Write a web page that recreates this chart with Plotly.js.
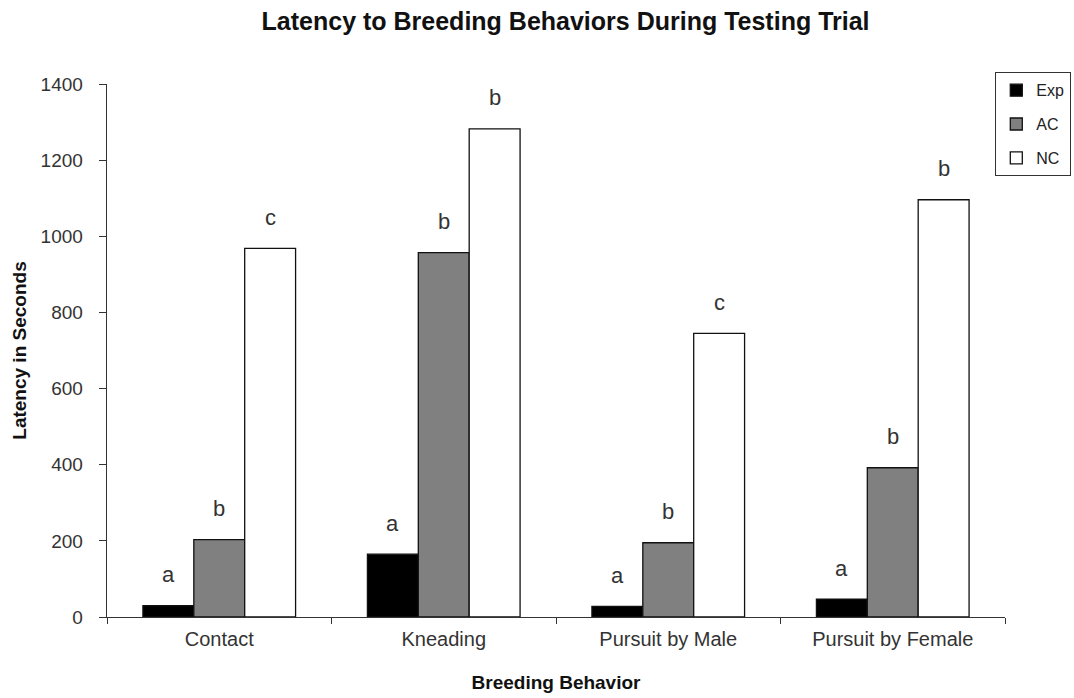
<!DOCTYPE html>
<html>
<head>
<meta charset="utf-8">
<script src="https://cdn.plot.ly/plotly-3.0.1.min.js"></script>
<style>html,body{margin:0;padding:0;background:#fff;}#chart{width:1074px;height:698px;}</style>
</head>
<body>
<div id="chart"></div>
<script>
var categories = ["Contact", "Kneading", "Pursuit by Male", "Pursuit by Female"];
var seriesNames = ["Exp", "AC", "NC"];
var expValues = [30, 165, 28, 47];
var acValues = [203, 957, 195, 392];
var ncValues = [968, 1282, 745, 1096];
var expLetters = ["a", "a", "a", "a"];
var acLetters = ["b", "b", "b", "b"];
var ncLetters = ["c", "b", "c", "b"];
var yTicks = [0, 200, 400, 600, 800, 1000, 1200, 1400];

var fills = ["#000000", "#808080", "#ffffff"];
var allValues = [expValues, acValues, ncValues];
var allLetters = [expLetters, acLetters, ncLetters];
var shifts = [-51, 0, 51];
var FONT = "Liberation Sans, Arial, sans-serif";

var traces = allValues.map(function (vals, i) {
  return {
    type: "bar",
    name: seriesNames[i],
    x: categories,
    y: vals,
    legendgroup: seriesNames[i],
    marker: { color: fills[i], line: { color: "#111", width: 1.3 } },
    hoverinfo: "x+y+name"
  };
});

var annotations = [];
allValues.forEach(function (vals, i) {
  vals.forEach(function (v, j) {
    annotations.push({
      x: categories[j], y: v, xref: "x", yref: "y",
      text: allLetters[i][j], showarrow: false,
      xshift: shifts[i], yshift: 31, yanchor: "middle",
      font: { family: FONT, size: 22, color: "#333" }
    });
  });
});

var layout = {
  width: 1074, height: 698,
  margin: { l: 107, r: 69, t: 84, b: 81, autoexpand: false },
  paper_bgcolor: "#fff", plot_bgcolor: "#fff",
  font: { family: FONT, color: "#333" },
  title: {
    text: "<b>Latency to Breeding Behaviors During Testing Trial</b>",
    font: { size: 25, color: "#111" },
    x: 0.5266, xanchor: "center", y: 0.97, yanchor: "middle"
  },
  barmode: "group",
  bargap: 0.32,
  bargroupgap: 0,
  xaxis: {
    type: "category",
    showline: true, linecolor: "#333", linewidth: 1.3,
    ticks: "outside", tickson: "boundaries", ticklen: 6, tickcolor: "#333",
    tickfont: { size: 20, color: "#333" },
    ticklabelstandoff: 4,
    showgrid: false, zeroline: false,
    title: { text: "<b>Breeding Behavior</b>", font: { size: 19, color: "#111" }, standoff: 26 }
  },
  yaxis: {
    range: [0, 1400],
    tickvals: yTicks,
    showline: true, linecolor: "#333", linewidth: 1.3,
    ticks: "outside", ticklen: 7, tickcolor: "#333",
    tickfont: { size: 19, color: "#333" },
    ticklabelstandoff: 12,
    showgrid: false, zeroline: false,
    title: { text: "<b>Latency in Seconds</b>", font: { size: 19, color: "#111" }, standoff: 9 }
  },
  legend: {
    xref: "container", yref: "container",
    x: 1071 / 1074, xanchor: "right",
    y: 1 - 72 / 698, yanchor: "top",
    bordercolor: "#333", borderwidth: 1.3, bgcolor: "#fff",
    font: { size: 16, color: "#222" },
    traceorder: "grouped", tracegroupgap: 10,
    itemwidth: 30
  },
  annotations: annotations
};

Plotly.newPlot("chart", traces, layout, { displayModeBar: false, staticPlot: true });
</script>
</body>
</html>
